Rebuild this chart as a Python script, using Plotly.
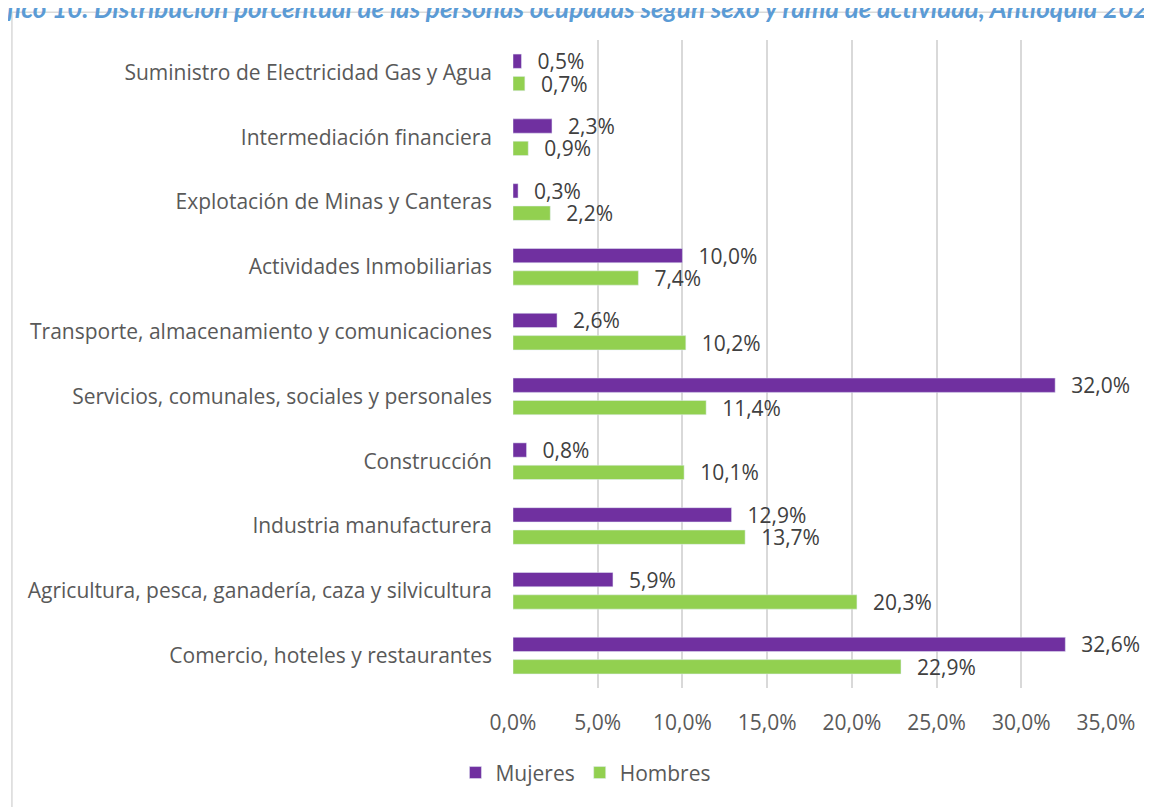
import plotly.graph_objects as go

# Ramas de actividad (de arriba hacia abajo)
ramas = [
    "Suministro de Electricidad Gas y Agua",
    "Intermediación financiera",
    "Explotación de Minas y Canteras",
    "Actividades Inmobiliarias",
    "Transporte, almacenamiento y comunicaciones",
    "Servicios, comunales, sociales y personales",
    "Construcción",
    "Industria manufacturera",
    "Agricultura, pesca, ganadería, caza y silvicultura",
    "Comercio, hoteles y restaurantes",
]
mujeres = [0.5, 2.3, 0.3, 10.0, 2.6, 32.0, 0.8, 12.9, 5.9, 32.6]
hombres = [0.7, 0.9, 2.2, 7.4, 10.2, 11.4, 10.1, 13.7, 20.3, 22.9]
ticks_x = [0, 5, 10, 15, 20, 25, 30, 35]
ticks_txt = [f"{v:.1f}%".replace(".", ",") for v in ticks_x]

titulo = ("Gráfico 10. Distribución porcentual de las personas ocupadas "
          "según sexo y rama de actividad, Antioquia 2020")

gris = "#404040"
font_main = "Open Sans"
fs = 21
etiqueta = "\u00a0\u00a0\u200a%{x:.1f}%"

fig = go.Figure()

fig.add_trace(
    go.Bar(
        y=ramas,
        x=mujeres,
        orientation="h",
        name="Mujeres",
        marker=dict(color="#7030A0"),
        texttemplate=etiqueta,
        textposition="outside",
        textfont=dict(size=fs, color=gris, family=font_main),
        cliponaxis=False,
    )
)

fig.add_trace(
    go.Bar(
        y=ramas,
        x=hombres,
        orientation="h",
        name="Hombres",
        marker=dict(color="#92D050"),
        texttemplate=etiqueta,
        textposition="outside",
        textfont=dict(size=fs, color=gris, family=font_main),
        cliponaxis=False,
    )
)

# Borde del área del gráfico
fig.add_shape(
    type="rect", xref="paper", yref="paper",
    x0=-0.845, x1=1.2, y0=-0.4, y1=1.043,
    line=dict(color="#D9D9D9", width=1.5),
    layer="below",
)

# Título (cortado en la parte superior, como en la imagen)
fig.add_annotation(
    text="<b><i>" + titulo + "</i></b>",
    xref="paper", yref="paper",
    x=0.088, y=1.05,
    xanchor="center", yanchor="middle",
    showarrow=False,
    font=dict(size=26, color="#5B9BD5", family="Lato"),
)

fig.update_layout(
    width=1152,
    height=807,
    margin=dict(l=505, r=54, t=32, b=127),
    paper_bgcolor="white",
    plot_bgcolor="white",
    barmode="group",
    bargap=0.31,
    bargroupgap=0.36,
    separators=",.",
    uniformtext=dict(mode=False),
    font=dict(family=font_main, color=gris, size=fs),
    showlegend=True,
    legend=dict(
        orientation="h",
        x=0.123,
        y=-0.131,
        xanchor="center",
        yanchor="middle",
        font=dict(size=fs, color="#595959", family=font_main),
    ),
)

fig.update_traces(constraintext="none")

fig.update_xaxes(
    range=[0, 35],
    tickvals=ticks_x,
    ticktext=ticks_txt,
    showgrid=True,
    gridcolor="#D9D9D9",
    gridwidth=1.5,
    zeroline=False,
    showline=False,
    ticklabelstandoff=20,
    tickfont=dict(size=fs, color="#595959", family=font_main),
)

fig.update_yaxes(
    type="category",
    categoryorder="array",
    categoryarray=ramas,
    autorange="reversed",
    showgrid=False,
    showline=False,
    zeroline=False,
    ticklabelstandoff=20,
    tickfont=dict(size=fs, color="#595959", family=font_main),
)

fig.write_html("out.html")
